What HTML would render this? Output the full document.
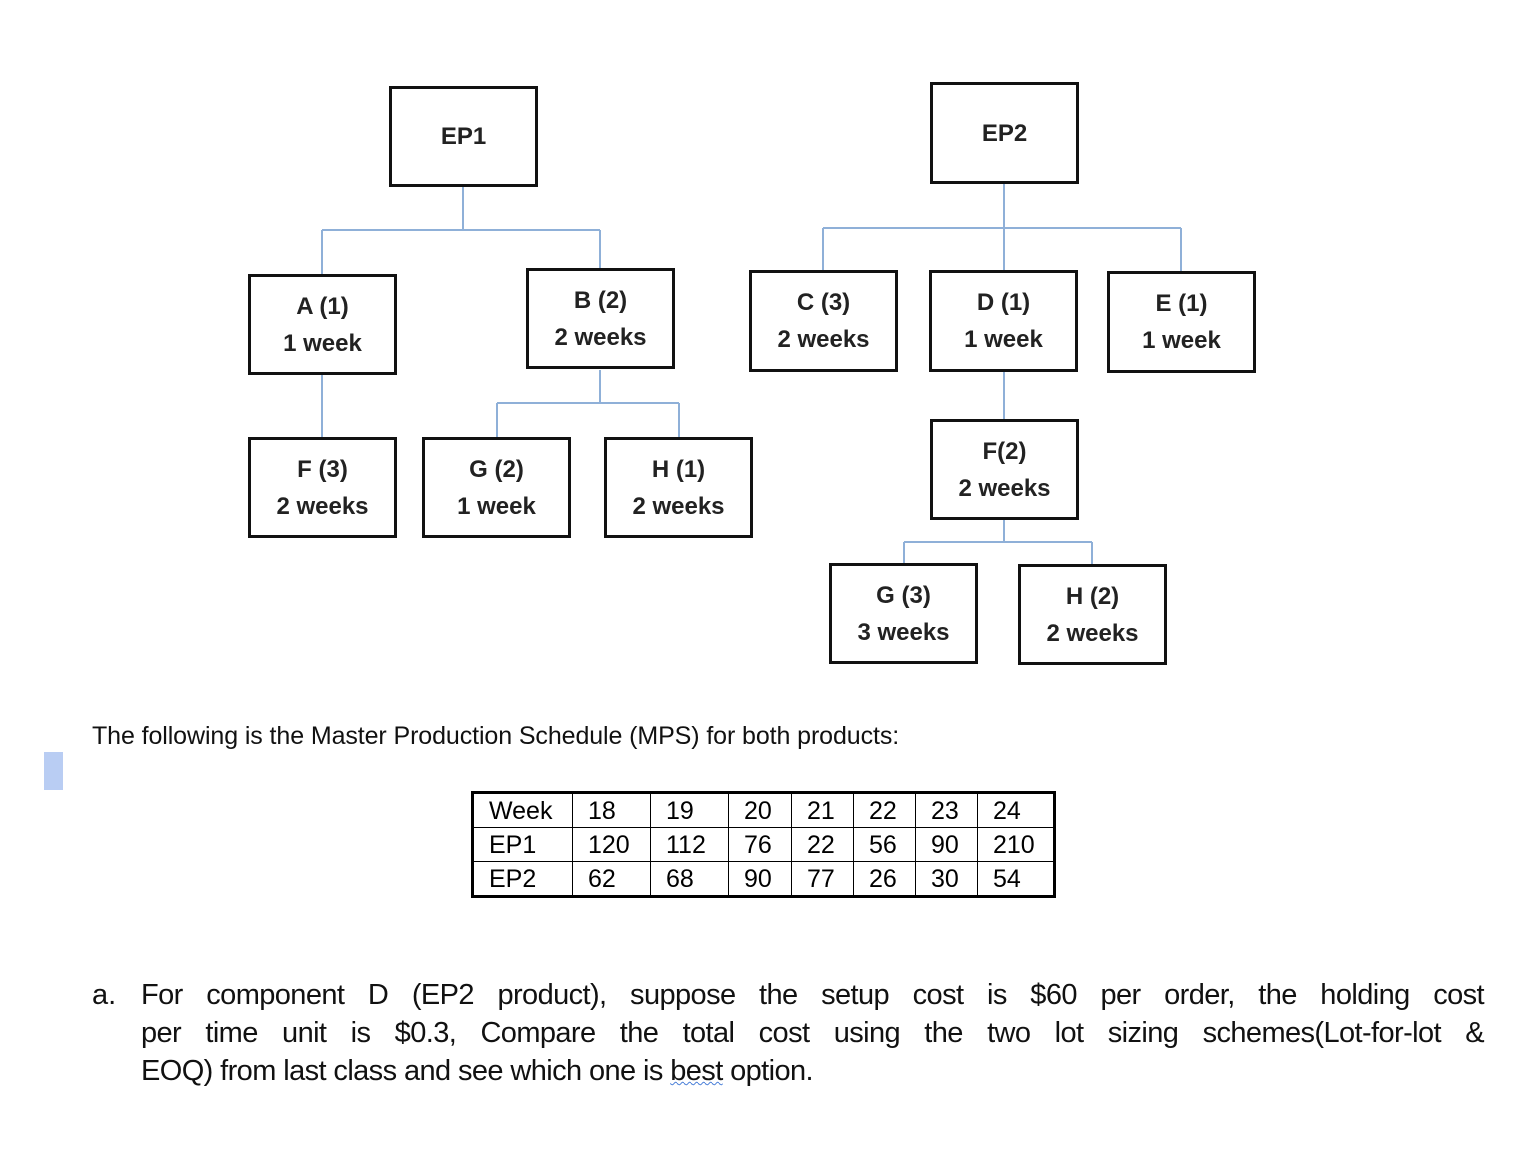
<!DOCTYPE html>
<html><head><meta charset="utf-8"><style>
body{margin:0;width:1540px;height:1158px;background:#fff;position:relative;overflow:hidden;font-family:"Liberation Sans",sans-serif;}
.b{position:absolute;box-sizing:border-box;border:3px solid #111;width:149px;height:101px;display:flex;flex-direction:column;justify-content:center;align-items:center;font-weight:bold;font-size:24px;line-height:37px;color:#222;}
svg{position:absolute;left:0;top:0;}
table{position:absolute;left:471px;top:791px;border-collapse:collapse;border:3px solid #000;font-size:25px;}
td{border:1.5px solid #000;height:34px;padding:2px 0 0 15px;line-height:31px;box-sizing:border-box;}
.t{position:absolute;color:#111;}
.ln{text-align:justify;text-align-last:justify;white-space:nowrap;}
</style></head><body>
<svg width="1540" height="1158"><g stroke="#8fb0d8" stroke-width="2" fill="none">
<path d="M463 187V230M322 230H600M322 230V274M600 230V268"/>
<path d="M322 375V437M600 370V403M497 403H679M497 403V437M679 403V437"/>
<path d="M1004 184V228M823 228H1181M823 228V270M1004 228V270M1181 228V271"/>
<path d="M1004 372V419M1004 520V542M904 542H1092M904 542V563M1092 542V564"/>
</g></svg>
<div class="b" style="left:389px;top:86px">EP1</div>
<div class="b" style="left:248px;top:274px"><span>A (1)</span><span>1 week</span></div>
<div class="b" style="left:526px;top:268px"><span>B (2)</span><span>2 weeks</span></div>
<div class="b" style="left:248px;top:437px"><span>F (3)</span><span>2 weeks</span></div>
<div class="b" style="left:422px;top:437px"><span>G (2)</span><span>1 week</span></div>
<div class="b" style="left:604px;top:437px"><span>H (1)</span><span>2 weeks</span></div>
<div class="b" style="left:930px;top:82px;height:102px">EP2</div>
<div class="b" style="left:749px;top:270px;height:102px"><span>C (3)</span><span>2 weeks</span></div>
<div class="b" style="left:929px;top:270px;height:102px"><span>D (1)</span><span>1 week</span></div>
<div class="b" style="left:1107px;top:271px;height:102px"><span>E (1)</span><span>1 week</span></div>
<div class="b" style="left:930px;top:419px"><span>F(2)</span><span>2 weeks</span></div>
<div class="b" style="left:829px;top:563px"><span>G (3)</span><span>3 weeks</span></div>
<div class="b" style="left:1018px;top:564px"><span>H (2)</span><span>2 weeks</span></div>
<div class="t" style="left:92px;top:722px;font-size:25px;letter-spacing:-0.1px">The following is the Master Production Schedule (MPS) for both products:</div>
<div style="position:absolute;left:44px;top:752px;width:19px;height:38px;background:#b9cdf3"></div>
<table>
<tr><td style="width:100px">Week</td><td style="width:78px">18</td><td style="width:78px">19</td><td style="width:63px">20</td><td style="width:62px">21</td><td style="width:62px">22</td><td style="width:62px">23</td><td style="width:77px">24</td></tr>
<tr><td>EP1</td><td>120</td><td>112</td><td>76</td><td>22</td><td>56</td><td>90</td><td>210</td></tr>
<tr><td>EP2</td><td>62</td><td>68</td><td>90</td><td>77</td><td>26</td><td>30</td><td>54</td></tr>
</table>
<div class="t" style="left:92px;top:976px;font-size:29px;line-height:38px;">a.</div>
<div class="t" style="left:141px;top:976px;width:1343px;font-size:29px;line-height:38px;letter-spacing:-0.6px">
<div class="ln">For component D (EP2 product), suppose the setup cost is $60 per order, the holding cost</div>
<div class="ln">per time unit is $0.3, Compare the total cost using the two lot sizing schemes(Lot-for-lot &amp;</div>
<div>EOQ) from last class and see which one is <span style="text-decoration:underline wavy #4a7fd8;text-decoration-thickness:1px">best</span> option.</div>
</div>
</body></html>
